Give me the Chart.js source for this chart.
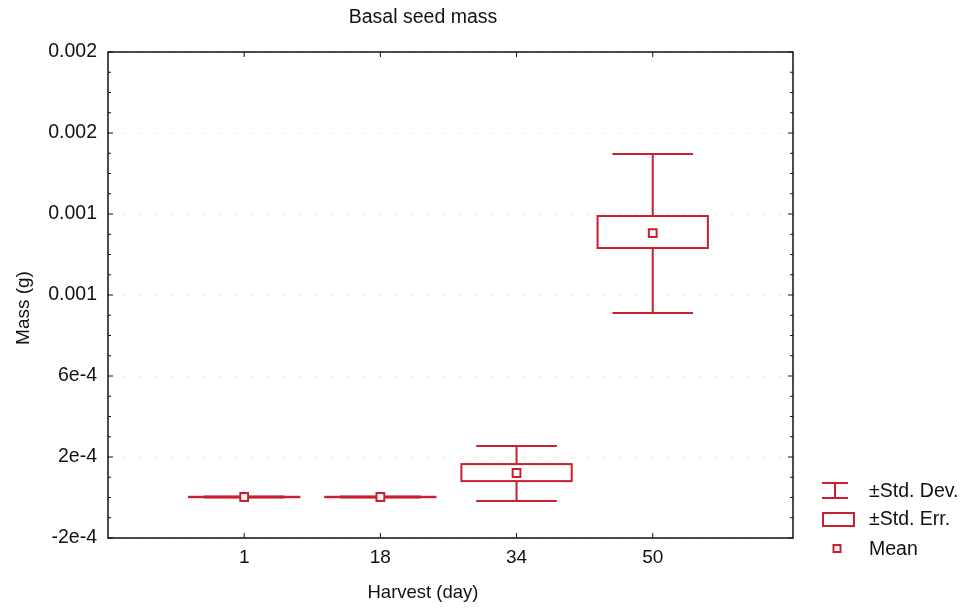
<html>
<head>
    <title>Basal seed mass</title>
    <style>
        body { margin: 0; background: #fff; overflow: hidden; }
    </style>
</head>
<body>
<canvas id="seedChart" width="964" height="609"></canvas>

<script src="https://cdn.jsdelivr.net/npm/chart.js"></script>
<script>
    // harvest days (placed at x = 1..4)
    const dayLabels = ['1', '18', '34', '50']
    const means = [0.0000025, 0.0000025, 0.000121, 0.001306]
    const seLow = [0.0000015, 0.0000015, 0.000081, 0.001232]
    const seHigh = [0.0000035, 0.0000035, 0.000165, 0.001390]
    const sdLow = [0.0000005, 0.0000005, -0.000017, 0.000911]
    const sdHigh = [0.0000045, 0.0000045, 0.000254, 0.001696]
    // tick labels as printed on the original (rounded)
    const yTickLabels = ['-2e-4', '2e-4', '6e-4', '0.001', '0.001', '0.002', '0.002']

    const red = '#c8202e'
    const font = '"Liberation Sans", Arial, sans-serif'

    const meanPoints = means.map((m, i) => ({x: i + 1, y: m}))

    // draws frame, ticks, grid, SD whiskers, SE boxes, legend and titles
    const boxPlugin = {
        id: 'boxPlugin',
        beforeDatasetsDraw(chart) {
            const ctx = chart.ctx
            const xs = chart.scales.x
            const ys = chart.scales.y
            const a = chart.chartArea
            ctx.save()
            // faint dotted grid
            ctx.strokeStyle = 'rgba(150,150,150,0.45)'
            ctx.lineWidth = 1
            ctx.setLineDash([1, 15])
            for (let v = -0.0002; v <= 0.00221; v += 0.0004) {
                const py = Math.round(ys.getPixelForValue(v)) + 0.5
                ctx.beginPath()
                ctx.moveTo(a.left, py)
                ctx.lineTo(a.right, py)
                ctx.stroke()
            }
            ctx.setLineDash([])

            ctx.strokeStyle = red
            ctx.lineWidth = 2
            for (let i = 0; i < dayLabels.length; i++) {
                const cx = xs.getPixelForValue(i + 1)
                const capHalf = xs.getPixelForValue(i + 1 + 0.296) - cx
                const boxHalf = xs.getPixelForValue(i + 1 + 0.405) - cx
                const yTop = ys.getPixelForValue(sdHigh[i])
                const yBot = ys.getPixelForValue(sdLow[i])
                const bTop = ys.getPixelForValue(seHigh[i])
                const bBot = ys.getPixelForValue(seLow[i])
                // whisker
                ctx.beginPath()
                ctx.moveTo(cx, yTop)
                ctx.lineTo(cx, bTop)
                ctx.moveTo(cx, bBot)
                ctx.lineTo(cx, yBot)
                ctx.moveTo(cx - capHalf, yTop)
                ctx.lineTo(cx + capHalf, yTop)
                ctx.moveTo(cx - capHalf, yBot)
                ctx.lineTo(cx + capHalf, yBot)
                ctx.stroke()
                // SE box
                ctx.fillStyle = '#fff'
                ctx.fillRect(cx - boxHalf, bTop, boxHalf * 2, bBot - bTop)
                ctx.strokeRect(cx - boxHalf, bTop, boxHalf * 2, bBot - bTop)
            }
            ctx.restore()
        },
        afterDraw(chart) {
            const ctx = chart.ctx
            const xs = chart.scales.x
            const ys = chart.scales.y
            const a = chart.chartArea
            ctx.save()
            // frame
            ctx.strokeStyle = '#111'
            ctx.lineWidth = 1.5
            ctx.strokeRect(a.left, a.top, a.right - a.left, a.bottom - a.top)
            // inward ticks
            ctx.lineWidth = 1
            ctx.beginPath()
            for (let k = 0; k <= 24; k++) {
                const py = ys.getPixelForValue(-0.0002 + k * 0.0001)
                const len = k % 4 === 0 ? 5 : 3
                ctx.moveTo(a.left, py)
                ctx.lineTo(a.left + len, py)
                ctx.moveTo(a.right, py)
                ctx.lineTo(a.right - len, py)
            }
            for (let k = 1; k <= 4; k++) {
                const px = xs.getPixelForValue(k)
                ctx.moveTo(px, a.bottom)
                ctx.lineTo(px, a.bottom - 5)
                ctx.moveTo(px, a.top)
                ctx.lineTo(px, a.top + 5)
            }
            ctx.stroke()

            // titles
            ctx.fillStyle = '#111'
            ctx.textAlign = 'center'
            ctx.textBaseline = 'middle'
            ctx.font = '19.5px ' + font
            ctx.fillText('Basal seed mass', 423, 18)
            ctx.font = '18.5px ' + font
            ctx.fillText('Harvest (day)', 423, 593)
            ctx.save()
            ctx.translate(24, 308)
            ctx.rotate(-Math.PI / 2)
            ctx.font = '19px ' + font
            ctx.fillText('Mass (g)', 0, 0)
            ctx.restore()

            // legend
            ctx.strokeStyle = red
            ctx.lineWidth = 2
            ctx.beginPath()
            ctx.moveTo(822, 483)
            ctx.lineTo(848, 483)
            ctx.moveTo(822, 498)
            ctx.lineTo(848, 498)
            ctx.moveTo(835, 483)
            ctx.lineTo(835, 498)
            ctx.stroke()
            ctx.strokeRect(823, 513, 31, 13)
            ctx.strokeRect(833.5, 545, 7, 7)
            ctx.fillStyle = '#111'
            ctx.textAlign = 'left'
            ctx.font = '19.5px ' + font
            ctx.fillText('\u00b1Std. Dev.', 869, 492)
            ctx.fillText('\u00b1Std. Err.', 869, 520)
            ctx.fillText('Mean', 869, 550)
            ctx.restore()
        }
    }

    new Chart(document.getElementById('seedChart'), {
        type: 'scatter',
        data: {
            datasets: [{
                label: 'Mean',
                data: meanPoints,
                pointStyle: 'rect',
                pointRadius: 5.5,
                pointBorderWidth: 2,
                borderColor: red,
                backgroundColor: '#fff'
            }]
        },
        options: {
            responsive: false,
            animation: false,
            layout: {padding: {left: 0, right: 171, top: 52, bottom: 0}},
            plugins: {
                legend: {display: false},
                tooltip: {enabled: false}
            },
            scales: {
                x: {
                    type: 'linear',
                    min: 0,
                    max: 5.03,
                    grid: {display: false},
                    border: {display: false},
                    afterFit: s => { s.height = 71 },
                    afterBuildTicks: s => { s.ticks = dayLabels.map((d, i) => ({value: i + 1})) },
                    ticks: {
                        padding: 0,
                        color: '#111',
                        font: {family: font, size: 19},
                        callback: v => dayLabels[v - 1] || ''
                    }
                },
                y: {
                    min: -0.0002,
                    max: 0.0022,
                    grid: {display: false},
                    border: {display: false},
                    afterFit: s => { s.width = 108 },
                    ticks: {
                        stepSize: 0.0004,
                        padding: 3,
                        color: '#111',
                        font: {family: font, size: 19.5},
                        callback: (v, i) => yTickLabels[i]
                    }
                }
            }
        },
        plugins: [boxPlugin]
    });
</script>
</body>
</html>
